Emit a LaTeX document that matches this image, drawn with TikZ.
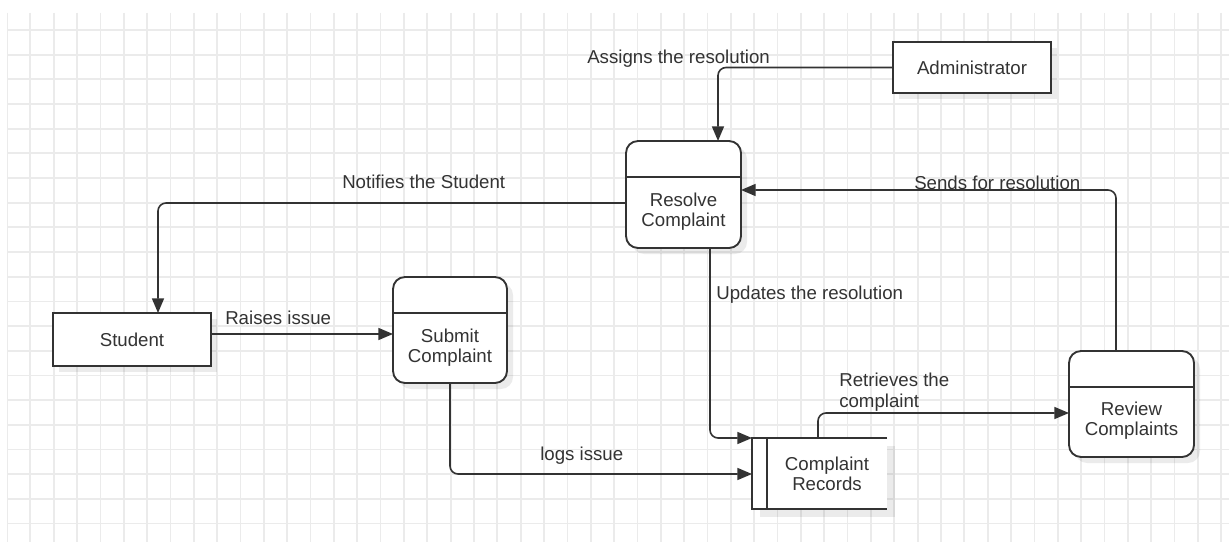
\documentclass[tikz,border=0pt]{standalone}
\usepackage{fontspec}
\setmainfont{Liberation Sans}
\usetikzlibrary{arrows.meta,calc,shadows}
\definecolor{gridc}{HTML}{EBEBEB}
\definecolor{linec}{HTML}{333333}
\definecolor{txtc}{HTML}{333333}
\begin{document}
\begin{tikzpicture}[x=0.75pt,y=-0.75pt,
  gridline/.style={draw=gridc, line width=1.3pt},
  boxshadow/.style={drop shadow={shadow xshift=4.5pt, shadow yshift=-4.5pt, fill=black, opacity=0.08}},
  extbox/.style={draw=linec, line width=1.4pt, fill=white, outer sep=0pt, inner sep=0pt,
    text=txtc, font=\fontsize{14}{15}\selectfont, boxshadow},
  procbox/.style={draw=linec, line width=1.4pt, fill=white, outer sep=0pt, inner sep=0pt,
    rounded corners=9pt, boxshadow},
  ntext/.style={text=txtc, font=\fontsize{14}{15}\selectfont, align=center, inner sep=0pt},
  lbl/.style={text=txtc, font=\fontsize{14}{15}\selectfont, inner sep=0pt, anchor=base west},
  divider/.style={draw=linec, line width=1.4pt},
  flow/.style={draw=linec, line width=1.2pt, rounded corners=6pt, -{Triangle[length=11pt,width=9pt]}}
]
\useasboundingbox (0,0) rectangle (1232,542);
\fill[white] (0,0) rectangle (1232,542);
% grid
\begin{scope}
\clip (7,13) rectangle (1229,542);
\foreach \i in {0,...,52} \draw[gridline] ({7+23.35*\i},13) -- ({7+23.35*\i},542);
\foreach \j in {0,...,20} \draw[gridline] (7,{30+24.67*\j}) -- (1229,{30+24.67*\j});
\end{scope}

% external entities
\node[extbox, minimum width=118.5pt, minimum height=38.25pt] (admin) at (972,67.5) {Administrator};
\node[extbox, minimum width=118.5pt, minimum height=39.75pt] (student) at (132,339.5) {Student};

% processes
\node[procbox, minimum width=86.25pt, minimum height=80.25pt] (resolve) at (683.5,194.5) {};
\draw[divider] ($(resolve.north west)+(0,36)$) -- ($(resolve.north east)+(0,36)$);
\node[ntext] (resolvet) at ($(resolve.center)+(0,17)$) {Resolve\\Complaint};

\node[procbox, minimum width=85.5pt, minimum height=79.5pt] (submit) at (450,330) {};
\draw[divider] ($(submit.north west)+(0,36)$) -- ($(submit.north east)+(0,36)$);
\node[ntext] (submitt) at ($(submit.center)+(0,18)$) {Submit\\Complaint};

\node[procbox, minimum width=93.75pt, minimum height=79.5pt] (review) at (1131.5,404) {};
\draw[divider] ($(review.north west)+(0,36)$) -- ($(review.north east)+(0,36)$);
\node[ntext] (reviewt) at ($(review.center)+(0,17)$) {Review\\Complaints};

% data store
\node[minimum width=101.25pt, minimum height=53.25pt, outer sep=0pt, inner sep=0pt] (records) at (819.5,473.5) {};
\fill[black, opacity=0.08] ($(records.north west)+(8,8)$) rectangle ($(records.south east)+(8,8)$);
\fill[white] (records.north west) rectangle (records.south east);
\draw[divider] (records.north east) -- (records.north west) -- (records.south west) -- (records.south east);
\draw[divider] ($(records.north west)+(15,0)$) -- ($(records.south west)+(15,0)$);
\node[ntext] (recordst) at ($(records.center)+(7.5,0)$) {Complaint\\Records};

% flows
\draw[flow] (admin.west) -| ($(resolve.north)+(34.5,0)$);
\draw[flow] ($(review.north)+(-15.5,0)$) |- ($(resolve.east)+(0,-4.5)$);
\draw[flow] ($(resolve.west)+(0,8.5)$) -| ($(student.north)+(26,0)$);
\draw[flow] ($(student.east)+(0,-5.5)$) -- ($(submit.west)+(0,4)$);
\draw[flow] (submit.south) |- ($(records.west)+(0,0.5)$);
\draw[flow] ($(resolve.south)+(26.5,0)$) |- (records.north west);
\draw[flow] ($(records.north)+(-1.5,0)$) |- ($(review.west)+(0,9)$);

% labels
\node[lbl] (l1) at (587,64) {Assigns the resolution};
\node[lbl] (l2) at (342,188) {Notifies the Student};
\node[lbl] (l3) at (914,189) {Sends for resolution};
\node[lbl] (l4) at (225,324) {Raises issue};
\node[lbl] (l5) at (716,299) {Updates the resolution};
\node[lbl] (l6) at (540,460) {logs issue};
\node[lbl] (l7) at (839,386) {Retrieves the};
\node[lbl] (l8) at (839,407) {complaint};
\end{tikzpicture}
\end{document}
